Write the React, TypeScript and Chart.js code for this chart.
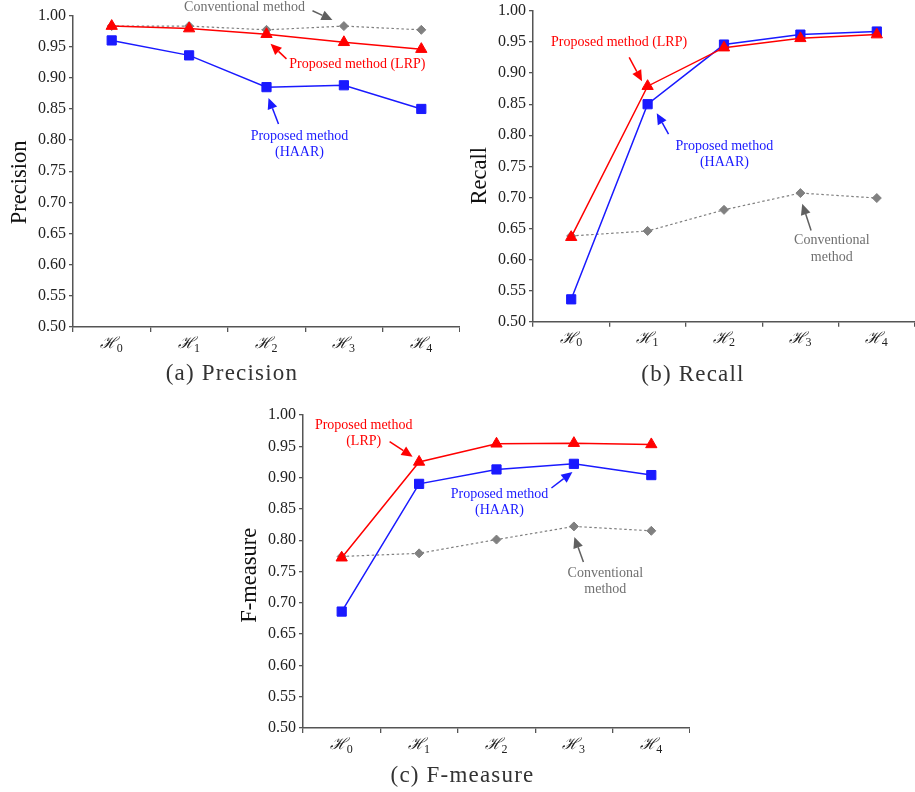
import React, { useEffect, useRef } from "react";
import { Chart, registerables } from "chart.js";

Chart.register(...registerables);

// ---------- data ----------
const categories = ["ℋ0", "ℋ1", "ℋ2", "ℋ3", "ℋ4"];
const categoryBase = "ℋ";
const categorySubs = ["0", "1", "2", "3", "4"];
const yMin = 0.5;
const yMax = 1.0;
const yStep = 0.05;

const precisionConventional = [0.983, 0.983, 0.977, 0.983, 0.977];
const precisionLRP = [0.983, 0.979, 0.970, 0.957, 0.946];
const precisionHAAR = [0.960, 0.936, 0.885, 0.888, 0.850];

const recallConventional = [0.638, 0.646, 0.680, 0.707, 0.699];
const recallLRP = [0.636, 0.879, 0.941, 0.956, 0.962];
const recallHAAR = [0.536, 0.850, 0.946, 0.962, 0.967];

const fConventional = [0.774, 0.779, 0.801, 0.822, 0.815];
const fLRP = [0.772, 0.925, 0.954, 0.955, 0.953];
const fHAAR = [0.686, 0.890, 0.913, 0.922, 0.904];

// ---------- styles ----------
const RED = "#ff0000";
const BLUE = "#1a1aff";
const GREY = "#808080";
const GREY_TEXT = "#707070";
const GREY_ARROW = "#606060";
const AXIS = "#555555";
const SERIF = "'Liberation Serif', 'Times New Roman', serif";

type Note = {
  lines: string[];
  color: string;
  arrowColor: string;
  at: [number, number];
  from: [number, number];
  to: [number, number];
};

// annotation positions in data coordinates (category index, value)
const precisionNotes: Note[] = [
  { lines: ["Conventional method"], color: GREY_TEXT, arrowColor: GREY_ARROW, at: [1.716, 1.0124], from: [2.594, 1.0076], to: [2.852, 0.9929] },
  { lines: ["Proposed method (LRP)"], color: RED, arrowColor: RED, at: [3.174, 0.9224], from: [2.258, 0.9304], to: [2.052, 0.9545] },
  { lines: ["Proposed method", "(HAAR)"], color: BLUE, arrowColor: BLUE, at: [2.426, 0.8066], from: [2.155, 0.8259], to: [2.026, 0.8677] },
];
const recallNotes: Note[] = [
  { lines: ["Proposed method (LRP)"], color: RED, arrowColor: RED, at: [0.627, 0.9497], from: [0.759, 0.9253], to: [0.927, 0.8869] },
  { lines: ["Proposed method", "(HAAR)"], color: BLUE, arrowColor: BLUE, at: [2.005, 0.7828], from: [1.274, 0.802], to: [1.12, 0.8356] },
  { lines: ["Conventional", "method"], color: GREY_TEXT, arrowColor: GREY_ARROW, at: [3.411, 0.6308], from: [3.14, 0.6468], to: [3.024, 0.69] },
];
const fNotes: Note[] = [
  { lines: ["Proposed method", "(LRP)"], color: RED, arrowColor: RED, at: [0.284, 0.984], from: [0.619, 0.9573], to: [0.916, 0.9334] },
  { lines: ["Proposed method", "(HAAR)"], color: BLUE, arrowColor: BLUE, at: [2.039, 0.8738], from: [2.71, 0.8834], to: [2.981, 0.9089] },
  { lines: ["Conventional", "method"], color: GREY_TEXT, arrowColor: GREY_ARROW, at: [3.406, 0.7476], from: [3.123, 0.7652], to: [3.006, 0.8051] },
];

const notesPlugin = {
  id: "notes",
  afterDatasetsDraw(chart: any, _args: any, opts: any) {
    const { ctx } = chart;
    const x = chart.scales.x;
    const y = chart.scales.y;
    const items: Note[] = opts.items || [];
    for (const n of items) {
      ctx.save();
      ctx.font = `14px ${SERIF}`;
      ctx.textAlign = "center";
      ctx.textBaseline = "middle";
      ctx.fillStyle = n.color;
      const tx = x.getPixelForValue(n.at[0]);
      const ty = y.getPixelForValue(n.at[1]);
      n.lines.forEach((t, i) => ctx.fillText(t, tx, ty + i * 16.7));
      const x1 = x.getPixelForValue(n.from[0]);
      const y1 = y.getPixelForValue(n.from[1]);
      const x2 = x.getPixelForValue(n.to[0]);
      const y2 = y.getPixelForValue(n.to[1]);
      const ang = Math.atan2(y2 - y1, x2 - x1);
      const hl = 11;
      const hw = 5;
      const bx = x2 - Math.cos(ang) * hl;
      const by = y2 - Math.sin(ang) * hl;
      ctx.strokeStyle = n.arrowColor;
      ctx.fillStyle = n.arrowColor;
      ctx.lineWidth = 1.5;
      ctx.beginPath();
      ctx.moveTo(x1, y1);
      ctx.lineTo(bx, by);
      ctx.stroke();
      ctx.beginPath();
      ctx.moveTo(x2, y2);
      ctx.lineTo(bx + Math.sin(ang) * hw, by - Math.cos(ang) * hw);
      ctx.lineTo(bx - Math.sin(ang) * hw, by + Math.cos(ang) * hw);
      ctx.closePath();
      ctx.fill();
      ctx.restore();
    }
  },
};

// draws the category labels ℋ with a subscript index, and the rotated axis title
const axisTextPlugin = {
  id: "axisText",
  afterDraw(chart: any, _args: any, opts: any) {
    const { ctx } = chart;
    const x = chart.scales.x;
    const y = chart.scales.y;
    ctx.save();
    ctx.fillStyle = "#222";
    ctx.textBaseline = "alphabetic";
    ctx.textAlign = "left";
    categorySubs.forEach((sub, i) => {
      const cx = x.getPixelForTick(i);
      ctx.font = "italic 16px 'DejaVu Serif', serif";
      const wH = ctx.measureText(categoryBase).width;
      ctx.font = `12px ${SERIF}`;
      const wS = ctx.measureText(sub).width;
      const start = cx - (wH + wS) / 2;
      const base = x.top + 21;
      ctx.font = "italic 16px 'DejaVu Serif', serif";
      ctx.fillText(categoryBase, start, base);
      ctx.font = `12px ${SERIF}`;
      ctx.fillText(sub, start + wH - 0.5, base + 3.5);
    });
    ctx.restore();

    ctx.save();
    ctx.translate(20, y.getPixelForValue(opts.titleAt));
    ctx.rotate(-Math.PI / 2);
    ctx.font = `22.5px ${SERIF}`;
    ctx.fillStyle = "#111";
    ctx.textAlign = "center";
    ctx.textBaseline = "middle";
    ctx.fillText(opts.title, 0, 0);
    ctx.restore();
  },
};

type PanelSpec = {
  left: number;
  top: number;
  width: number;
  height: number;
  padTop: number;
  xHeight: number;
  title: string;
  titleAt: number;
  conv: number[];
  lrp: number[];
  haar: number[];
  notes: Note[];
};

function makeConfig(p: PanelSpec): any {
  return {
    type: "line",
    data: {
      labels: categories,
      datasets: [
        {
          label: "Proposed method (LRP)",
          data: p.lrp,
          borderColor: RED,
          backgroundColor: RED,
          borderWidth: 1.5,
          pointStyle: "triangle",
          pointRadius: 6.5,
          pointBorderWidth: 1,
          tension: 0,
        },
        {
          label: "Proposed method (HAAR)",
          data: p.haar,
          borderColor: BLUE,
          backgroundColor: BLUE,
          borderWidth: 1.5,
          pointStyle: "rect",
          pointRadius: 6.5,
          pointBorderWidth: 1,
          tension: 0,
        },
        {
          label: "Conventional method",
          data: p.conv,
          borderColor: GREY,
          backgroundColor: GREY,
          borderWidth: 1.2,
          borderDash: [2.5, 2.5],
          pointStyle: "rectRot",
          pointRadius: 4.5,
          pointBorderWidth: 1,
          tension: 0,
        },
      ],
    },
    options: {
      responsive: false,
      animation: false,
      events: [],
      layout: { autoPadding: false, padding: { top: p.padTop, left: 0, right: 0, bottom: 0 } },
      plugins: {
        legend: { display: false },
        tooltip: { enabled: false },
        notes: { items: p.notes },
        axisText: { title: p.title, titleAt: p.titleAt },
      },
      scales: {
        x: {
          type: "category",
          offset: true,
          grid: {
            offset: true,
            drawOnChartArea: false,
            drawTicks: true,
            tickLength: 5,
            color: AXIS,
            lineWidth: 1.3,
          },
          border: { display: true, color: AXIS, width: 1.5 },
          ticks: { display: false },
          afterFit: (s: any) => {
            s.height = p.xHeight;
            s.paddingLeft = 0;
            s.paddingRight = 0;
          },
        },
        y: {
          min: yMin,
          max: yMax,
          grid: {
            drawOnChartArea: false,
            drawTicks: true,
            tickLength: 4,
            color: AXIS,
            lineWidth: 1.3,
          },
          border: { display: true, color: AXIS, width: 1.5 },
          ticks: {
            stepSize: yStep,
            color: "#222",
            font: { family: SERIF, size: 16, lineHeight: 1 },
            padding: 3,
            callback: (v: any) => Number(v).toFixed(2),
          },
          title: { display: false },
          afterFit: (s: any) => {
            s.width = 73;
          },
        },
      },
    },
    plugins: [notesPlugin, axisTextPlugin],
  };
}

const panels: PanelSpec[] = [
  { left: 0, top: 0, width: 460, height: 392, padTop: 15.5, xHeight: 65, title: "Precision", titleAt: 0.732, conv: precisionConventional, lrp: precisionLRP, haar: precisionHAAR, notes: precisionNotes },
  { left: 460, top: 0, width: 455, height: 392, padTop: 9.3, xHeight: 70.3, title: "Recall", titleAt: 0.735, conv: recallConventional, lrp: recallLRP, haar: recallHAAR, notes: recallNotes },
  { left: 230, top: 392, width: 460, height: 400, padTop: 23, xHeight: 64, title: "F-measure", titleAt: 0.744, conv: fConventional, lrp: fLRP, haar: fHAAR, notes: fNotes },
];

const captions = [
  { text: "(a) Precision", x: 232, y: 372 },
  { text: "(b) Recall", x: 693, y: 372.5 },
  { text: "(c) F-measure", x: 462.5, y: 774 },
];

function Panel({ spec }: { spec: PanelSpec }) {
  const ref = useRef<HTMLCanvasElement | null>(null);
  useEffect(() => {
    if (!ref.current) return;
    const chart = new Chart(ref.current, makeConfig(spec));
    return () => chart.destroy();
  }, [spec]);
  return (
    <canvas
      ref={ref}
      width={spec.width}
      height={spec.height}
      style={{ position: "absolute", left: spec.left, top: spec.top, width: spec.width, height: spec.height }}
    />
  );
}

export default function App() {
  return (
    <div style={{ position: "absolute", left: 0, top: 0, width: 915, height: 792, background: "#fff", overflow: "hidden" }}>
      {panels.map((p, i) => (
        <Panel key={i} spec={p} />
      ))}
      {captions.map((c, i) => (
        <div
          key={"c" + i}
          style={{
            position: "absolute",
            left: c.x,
            top: c.y,
            transform: "translate(-50%, -50%)",
            fontFamily: SERIF,
            fontSize: 23,
            letterSpacing: 1.2,
            lineHeight: 1,
            color: "#333",
            whiteSpace: "nowrap",
          }}
        >
          {c.text}
        </div>
      ))}
    </div>
  );
}
